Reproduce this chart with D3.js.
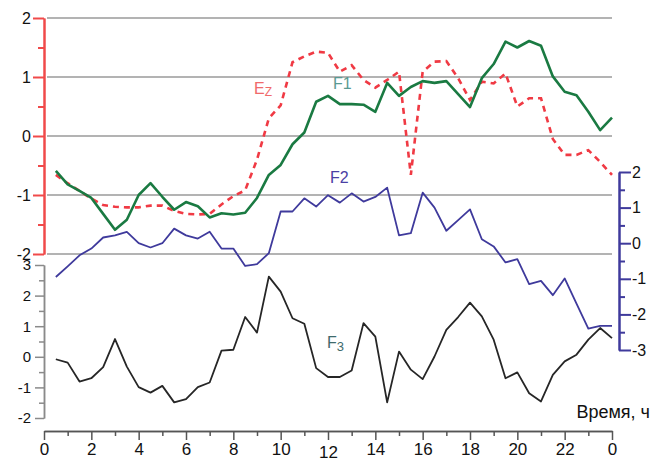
<!DOCTYPE html>
<html><head><meta charset="utf-8">
<script src="https://cdn.jsdelivr.net/npm/d3@7"></script>
<style>body{margin:0;background:#fff}svg{display:block;font-family:"Liberation Sans",Arial,sans-serif}</style>
</head><body><svg id="c" width="658" height="462"></svg>
<script>
const hours = [0.5,1,1.5,2,2.5,3,3.5,4,4.5,5,5.5,6,6.5,7,7.5,8,8.5,9,9.5,10,10.5,11,11.5,12,12.5,13,13.5,14,14.5,15,15.5,16,16.5,17,17.5,18,18.5,19,19.5,20,20.5,21,21.5,22,22.5,23,23.5,24];
const F1 = [-0.59,-0.82,-0.93,-1.05,-1.32,-1.59,-1.42,-1.0,-0.8,-1.03,-1.25,-1.12,-1.19,-1.38,-1.31,-1.33,-1.30,-1.05,-0.66,-0.49,-0.14,0.06,0.58,0.68,0.54,0.54,0.53,0.41,0.90,0.68,0.83,0.93,0.90,0.93,0.71,0.49,0.98,1.22,1.60,1.50,1.61,1.53,1.01,0.75,0.69,0.41,0.10,0.31];
const Ez = [-0.66,-0.80,-0.93,-1.06,-1.17,-1.20,-1.21,-1.21,-1.18,-1.18,-1.27,-1.32,-1.33,-1.32,-1.16,-1.02,-0.92,-0.40,0.30,0.52,1.25,1.35,1.43,1.41,1.09,1.20,0.95,0.82,0.95,1.09,-0.66,1.09,1.26,1.27,0.98,0.61,0.92,0.89,1.06,0.50,0.64,0.64,-0.05,-0.32,-0.32,-0.24,-0.44,-0.66];
const F2 = [-0.95,-0.65,-0.34,-0.15,0.16,0.22,0.32,0.0,-0.12,0.0,0.41,0.22,0.13,0.32,-0.15,-0.15,-0.64,-0.59,-0.28,0.89,0.89,1.26,1.03,1.35,1.14,1.40,1.17,1.30,1.56,0.22,0.28,1.42,1.0,0.35,0.65,0.95,0.11,-0.09,-0.54,-0.45,-1.15,-1.06,-1.46,-0.99,-1.70,-2.40,-2.32,-2.32];
const F3 = [-0.08,-0.19,-0.81,-0.70,-0.34,0.58,-0.32,-0.99,-1.17,-0.95,-1.49,-1.38,-0.99,-0.84,0.20,0.23,1.30,0.79,2.62,2.13,1.26,1.08,-0.37,-0.66,-0.66,-0.45,1.10,0.66,-1.49,0.17,-0.42,-0.73,0.01,0.88,1.30,1.77,1.32,0.56,-0.70,-0.51,-1.19,-1.46,-0.59,-0.15,0.07,0.56,0.94,0.61];
const xTickValues = [0,2,4,6,8,10,12,14,16,18,20,22,24];
const xTickLabels = ["0","2","4","6","8","10","12","14","16","18","20","22","0"];
const leftTicks = [-2,-1,0,1,2];
const f3Ticks = [-2,-1,0,1,2,3];
const rightTicks = [-3,-2,-1,0,1,2];
const xLabel = "Время, ч";

const svg = d3.select("#c");
const x = d3.scaleLinear([0,24],[44,612]);
const yL = d3.scaleLinear([-2,2],[254,18]);
const yR = d3.scaleLinear([-3,2],[350,172]);
const y3 = d3.scaleLinear([-2,3],[418,265]);

// gridlines
svg.append("g").selectAll("line").data(leftTicks).join("line")
  .attr("x1",47).attr("x2",612).attr("y1",d=>yL(d)).attr("y2",d=>yL(d))
  .attr("stroke","#9a9a9a").attr("stroke-width",1.5);

function styleAxis(g,color,width,fs){
  g.select(".domain").attr("stroke",color).attr("stroke-width",width);
  g.selectAll(".tick line").attr("stroke",color).attr("stroke-width",width);
  g.selectAll(".tick text").attr("fill","#111").attr("font-size",fs).attr("font-family","Liberation Sans, Arial, sans-serif");
}
function halves(arr){const r=[];for(let i=0;i<arr.length-1;i++)r.push((arr[i]+arr[i+1])/2);return r;}

// left red axis (Ez, F1)
const gL = svg.append("g").attr("transform","translate(44,0)");
gL.call(d3.axisLeft(yL).tickValues(halves(leftTicks)).tickSize(6).tickFormat("").tickSizeOuter(0));
gL.call(g=>styleAxis(g,"#f04a4a",2,16));
const gL2 = svg.append("g").attr("transform","translate(44,0)");
gL2.call(d3.axisLeft(yL).tickValues(leftTicks).tickSize(11).tickPadding(2).tickFormat(d=>String(d)).tickSizeOuter(0));
gL2.call(g=>styleAxis(g,"#f04a4a",2,16));

// F3 axis
const g3 = svg.append("g").attr("transform","translate(44,0)");
g3.call(d3.axisLeft(y3).tickValues(halves(f3Ticks)).tickSize(5).tickFormat("").tickSizeOuter(0));
g3.call(g=>styleAxis(g,"#8a8a8a",1.5,15));
const g3b = svg.append("g").attr("transform","translate(44,0)");
g3b.call(d3.axisLeft(y3).tickValues(f3Ticks).tickSize(9).tickPadding(4).tickFormat(d=>String(d)).tickSizeOuter(0));
g3b.call(g=>styleAxis(g,"#8a8a8a",1.5,15));

// right blue axis (F2)
const gR = svg.append("g").attr("transform","translate(619,0)");
gR.call(d3.axisRight(yR).tickValues(halves(rightTicks)).tickSize(6).tickFormat("").tickSizeOuter(0));
gR.call(g=>styleAxis(g,"#3f3a9c",2,16));
const gR2 = svg.append("g").attr("transform","translate(619,0)");
gR2.call(d3.axisRight(yR).tickValues(rightTicks).tickSize(12).tickPadding(1).tickFormat(d=>String(d)).tickSizeOuter(0));
gR2.call(g=>styleAxis(g,"#3f3a9c",2,16));

// bottom axis
const xMinor = d3.range(1,24,2);
const gB = svg.append("g").attr("transform","translate(0,431)");
gB.call(d3.axisBottom(x).tickValues(xMinor).tickSize(5).tickFormat("").tickSizeOuter(0));
gB.call(g=>styleAxis(g,"#555",1.5,17));
const gB2 = svg.append("g").attr("transform","translate(0,431)");
gB2.call(d3.axisBottom(x).tickValues(xTickValues).tickSize(9).tickPadding(3).tickFormat((d,i)=>xTickLabels[i]).tickSizeOuter(0));
gB2.call(g=>styleAxis(g,"#555",1.5,17));
gB2.selectAll(".tick text").filter(d=>d===12).attr("dy","0.88em");

// lines
const line = (ys,sc)=>d3.line().x((d,i)=>x(hours[i])).y(d=>sc(d))(ys);
svg.append("path").attr("d",line(F3,y3)).attr("fill","none").attr("stroke","#262626").attr("stroke-width",1.8).attr("stroke-linejoin","round");
svg.append("path").attr("d",line(F2,yR)).attr("fill","none").attr("stroke","#3f3a9c").attr("stroke-width",1.8).attr("stroke-linejoin","round");
svg.append("path").attr("d",line(Ez,yL)).attr("fill","none").attr("stroke","#f03a44").attr("stroke-width",2.6).attr("stroke-dasharray","6,5");
svg.append("path").attr("d",line(F1,yL)).attr("fill","none").attr("stroke","#1a7a42").attr("stroke-width",2.6).attr("stroke-linejoin","round");

// labels
const ez = svg.append("text").attr("x",254).attr("y",94).attr("fill","#f06a6a").attr("font-size",16);
ez.append("tspan").text("E");
ez.append("tspan").attr("font-size",12).attr("dy",2).text("Z");
svg.append("text").attr("x",333).attr("y",89).attr("fill","#5a9a92").attr("font-size",16).text("F1");
svg.append("text").attr("x",330).attr("y",183).attr("fill","#4a40a4").attr("font-size",16).text("F2");
const f3 = svg.append("text").attr("x",327).attr("y",348).attr("fill","#3e6a6c").attr("font-size",16);
f3.append("tspan").text("F");
f3.append("tspan").attr("font-size",13).attr("dy",3).text("3");
svg.append("text").attr("x",650).attr("y",418).attr("text-anchor","end").attr("fill","#111").attr("font-size",18).text(xLabel);
</script></body></html>
